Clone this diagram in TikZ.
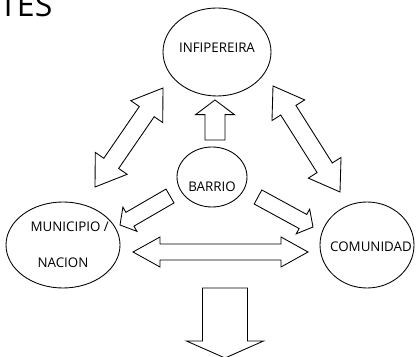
\documentclass[tikz,border=0pt]{standalone}
\usepackage{fontspec}
\setmainfont{Open Sans}
\usetikzlibrary{shapes.geometric,calc}
\newcommand{\oneway}[5]{\draw[outline] ($(#1)!#3!90:(#2)$) -- ($(#2)!#5!(#1)!#3!90:(#2)$) -- ($(#2)!#5!(#1)!#4!90:(#2)$) -- (#2) -- ($(#2)!#5!(#1)!#4!-90:(#2)$) -- ($(#2)!#5!(#1)!#3!-90:(#2)$) -- ($(#1)!#3!-90:(#2)$) -- cycle;}
\newcommand{\twoway}[5]{\draw[outline] (#1) -- ($(#1)!#5!(#2)!#4!90:(#2)$) -- ($(#1)!#5!(#2)!#3!90:(#2)$) -- ($(#2)!#5!(#1)!#3!90:(#2)$) -- ($(#2)!#5!(#1)!#4!90:(#2)$) -- (#2) -- ($(#2)!#5!(#1)!#4!-90:(#2)$) -- ($(#2)!#5!(#1)!#3!-90:(#2)$) -- ($(#1)!#5!(#2)!#3!-90:(#2)$) -- ($(#1)!#5!(#2)!#4!-90:(#2)$) -- cycle;}
\begin{document}
\begin{tikzpicture}[x=0.75pt, y=0.75pt, ring/.style={ellipse, draw=black, line width=0.65pt, inner sep=0pt}, outline/.style={draw=black, line width=0.65pt, line join=miter}, lbl/.style={font=\fontsize{10}{12}\selectfont, text=black, inner sep=0pt}, heading/.style={font=\fontsize{24}{28}\selectfont, text=black, inner sep=0pt, anchor=base west}]
\useasboundingbox (0,0) rectangle (416,356);
\node[heading] (title) at (-1,339) {TES};
\node[ring, minimum width=81pt, minimum height=66pt] (infi) at (217,304) {};
\node[ring, minimum width=52.5pt, minimum height=45pt] (barrio) at (212,179) {};
\node[ring, minimum width=85.5pt, minimum height=64.5pt] (muni) at (63,111) {};
\node[ring, minimum width=70.5pt, minimum height=64.5pt] (comu) at (367,111) {};
\node[lbl] (infi-t) at ([yshift=3pt]infi.center) {INFIPEREIRA};
\node[lbl] (barrio-t) at ([yshift=-7.5pt]barrio.center) {BARRIO};
\node[lbl] (muni-t1) at ([xshift=5pt,yshift=13.5pt]muni.center) {MUNICIPIO /};
\node[lbl] (muni-t2) at ([yshift=-13.5pt]muni.center) {NACION};
\node[lbl] (comu-t) at ([xshift=3pt,yshift=-1.5pt]comu.center) {COMUNIDAD};
\coordinate (up-a) at (215,216);
\coordinate (up-b) at (215,256);
\coordinate (nw-a) at (95,169);
\coordinate (nw-b) at (163,268);
\coordinate (ne-a) at (340,164);
\coordinate (ne-b) at (273,270);
\coordinate (sw-a) at (170,160);
\coordinate (sw-b) at (120,131);
\coordinate (se-a) at (258,159);
\coordinate (se-b) at (313,129);
\coordinate (mid-a) at (133,104);
\coordinate (mid-b) at (308,104);
\coordinate (down-a) at (225,68);
\coordinate (down-b) at (225,-2);
\oneway{up-a}{up-b}{7.5pt}{14.6pt}{11pt}
\twoway{nw-a}{nw-b}{6.75pt}{14.5pt}{21.5pt}
\twoway{ne-a}{ne-b}{6.75pt}{14.5pt}{21.5pt}
\oneway{sw-a}{sw-b}{6pt}{10.5pt}{8.6pt}
\oneway{se-a}{se-b}{6pt}{10.5pt}{8.6pt}
\twoway{mid-a}{mid-b}{6pt}{11.25pt}{20.25pt}
\oneway{down-a}{down-b}{16.9pt}{28.9pt}{12.75pt}
\end{tikzpicture}
\end{document}
